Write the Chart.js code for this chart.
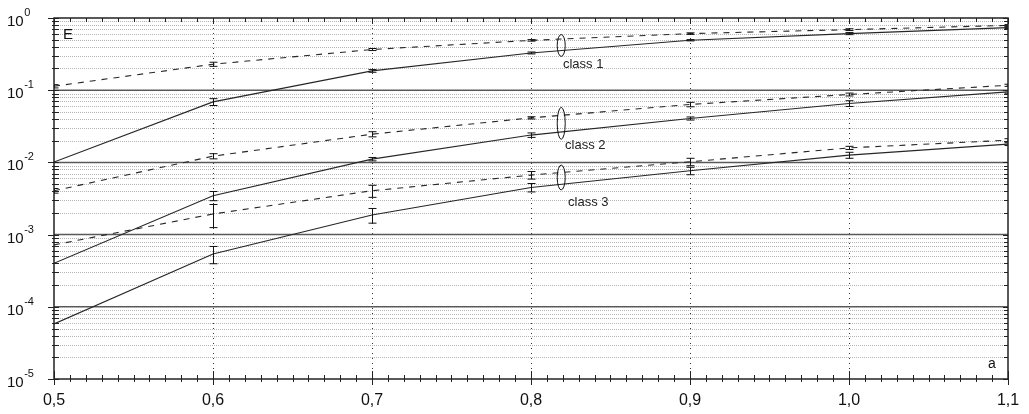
<!DOCTYPE html>
<html>
<head>
<meta charset="utf-8">
<script src="https://cdn.jsdelivr.net/npm/chart.js@4/dist/chart.umd.min.js"></script>
<style>
  body { margin: 0; background: #fff; }
  #chart { display: block; }
</style>
</head>
<body>
<canvas id="chart" width="1029" height="414"></canvas>
<script>
// values
const aValues = [0.5, 0.6, 0.7, 0.8, 0.9, 1.0, 1.1]

const class1Dashed = [0.1135, 0.229, 0.366, 0.49, 0.608, 0.69, 0.79]
const class1Solid = [0.0101, 0.0689, 0.185, 0.328, 0.492, 0.608, 0.736]
const class2Dashed = [0.00405, 0.0122, 0.0246, 0.0414, 0.0634, 0.0872, 0.117]
const class2Solid = [0.0004, 0.00345, 0.0111, 0.0239, 0.0406, 0.0655, 0.0948]
const class3Dashed = [0.00072, 0.00193, 0.00405, 0.00667, 0.0102, 0.0159, 0.0203]
const class3Solid = [0.000058, 0.00054, 0.00187, 0.0045, 0.00765, 0.0126, 0.0179]

// error bar half-widths
const class1DashedErr = [0.006, 0.015, 0.012, 0.012, 0.015, 0.02, 0.02]
const class1SolidErr = [0, 0.0075, 0.008, 0.01, 0.01, 0.02, 0.02]
const class2DashedErr = [0.0003, 0.001, 0.002, 0.0015, 0.0045, 0.004, 0.004]
const class2SolidErr = [0, 0.0005, 0.0006, 0.0017, 0.002, 0.006, 0.004]
const class3DashedErr = [0, 0.00068, 0.00077, 0.0008, 0.0012, 0.0008, 0.001]
const class3SolidErr = [0, 0.000145, 0.00043, 0.0006, 0.0009, 0.0012, 0.0008]

const xTickValues = [0.5, 0.6, 0.7, 0.8, 0.9, 1.0, 1.1]
const xTickLabels = ['0,5', '0,6', '0,7', '0,8', '0,9', '1,0', '1,1']
const yExponents = [0, -1, -2, -3, -4, -5]

const classLabels = ['class 1', 'class 2', 'class 3']
const classMarkX = 0.819
const classMarkY = [[0.294, 0.59], [0.0209, 0.0578], [0.00416, 0.00919]]
const classLabelX = [0.8201, 0.8214, 0.8233]
const classLabelY = [0.224, 0.017, 0.00283]

const series = [
  {values: class1Dashed, errors: class1DashedErr, dashed: true},
  {values: class1Solid, errors: class1SolidErr, dashed: false},
  {values: class2Dashed, errors: class2DashedErr, dashed: true},
  {values: class2Solid, errors: class2SolidErr, dashed: false},
  {values: class3Dashed, errors: class3DashedErr, dashed: true},
  {values: class3Solid, errors: class3SolidErr, dashed: false},
]

const FONT = '"Liberation Sans", Arial, sans-serif'

function seg(ctx, x1, y1, x2, y2) {
  ctx.beginPath()
  ctx.moveTo(x1, y1)
  ctx.lineTo(x2, y2)
  ctx.stroke()
}

const frame = {
  id: 'frame',
  beforeDraw(c) {
    const ctx = c.ctx
    ctx.save()
    ctx.fillStyle = '#fff'
    ctx.fillRect(0, 0, c.width, c.height)
    ctx.restore()
  },
  beforeDatasetsDraw(c) {
    const {ctx, chartArea: a, scales: {x, y}} = c
    ctx.save()
    // minor horizontal grid
    ctx.lineWidth = 1
    ctx.strokeStyle = '#b4b4b4'
    ctx.setLineDash([1, 1])
    for (let e = -5; e < 0; e++) {
      for (let m = 2; m <= 9; m++) {
        const py = Math.round(y.getPixelForValue(m * Math.pow(10, e))) + 0.5
        seg(ctx, a.left, py, a.right, py)
      }
    }
    // vertical dotted grid
    ctx.strokeStyle = '#333'
    ctx.setLineDash([1, 4])
    xTickValues.slice(1, -1).forEach(v => {
      const px = Math.round(x.getPixelForValue(v)) + 0.5
      seg(ctx, px, a.top, px, a.bottom)
    })
    // decade lines
    ctx.setLineDash([])
    ctx.strokeStyle = '#5a5a5a'
    ctx.lineWidth = 1.5
    yExponents.slice(1, -1).forEach(e => {
      const py = y.getPixelForValue(Math.pow(10, e))
      seg(ctx, a.left, py, a.right, py)
    })
    ctx.restore()
  },
  afterDatasetsDraw(c) {
    const {ctx, chartArea: a, scales: {x, y}} = c
    ctx.save()
    ctx.beginPath()
    ctx.rect(a.left, a.top, a.right - a.left, a.bottom - a.top)
    ctx.clip()
    // error bars
    ctx.strokeStyle = '#111'
    ctx.lineWidth = 1
    series.forEach(s => {
      s.values.forEach((v, j) => {
        const err = s.errors[j]
        if (!err) return
        const px = Math.round(x.getPixelForValue(aValues[j])) + 0.5
        const hi = y.getPixelForValue(v + err)
        const lo = y.getPixelForValue(Math.max(v - err, 1e-6))
        seg(ctx, px, hi, px, lo)
        seg(ctx, px - 4, hi, px + 4, hi)
        seg(ctx, px - 4, lo, px + 4, lo)
      })
    })
    // class markers
    ctx.lineWidth = 1
    classMarkY.forEach(([lo, hi]) => {
      const cx = x.getPixelForValue(classMarkX)
      const top = y.getPixelForValue(hi)
      const bot = y.getPixelForValue(lo)
      ctx.beginPath()
      ctx.ellipse(cx, (top + bot) / 2, 4, (bot - top) / 2, 0, 0, Math.PI * 2)
      ctx.stroke()
    })
    ctx.restore()

    ctx.save()
    // frame
    ctx.strokeStyle = '#222'
    ctx.lineWidth = 1.5
    ctx.strokeRect(a.left, a.top, a.right - a.left, a.bottom - a.top)
    ctx.lineWidth = 1
    // x ticks
    for (let i = 0; i <= 60; i++) {
      const v = 0.5 + i / 100
      const px = Math.round(x.getPixelForValue(v)) + 0.5
      const major = i % 10 === 0
      seg(ctx, px, a.bottom - (major ? 8 : 4), px, a.bottom + (major ? 6 : 3))
      seg(ctx, px, a.top, px, a.top + (major ? 6 : 4))
    }
    // y ticks
    for (let e = -5; e <= 0; e++) {
      const py = Math.round(y.getPixelForValue(Math.pow(10, e))) + 0.5
      seg(ctx, a.left - 6, py, a.left + 5, py)
      seg(ctx, a.right - 5, py, a.right, py)
      if (e === 0) continue
      for (let m = 2; m <= 9; m++) {
        const q = Math.round(y.getPixelForValue(m * Math.pow(10, e))) + 0.5
        seg(ctx, a.left - 2, q, a.left + 5, q)
        seg(ctx, a.right - 4, q, a.right, q)
      }
    }
    ctx.restore()
  },
  afterDraw(c) {
    const {ctx, chartArea: a, scales: {x, y}} = c
    ctx.save()
    ctx.fillStyle = '#111'
    // x labels
    ctx.font = '16px ' + FONT
    ctx.textAlign = 'center'
    ctx.textBaseline = 'alphabetic'
    xTickValues.forEach((v, i) => {
      ctx.fillText(xTickLabels[i], x.getPixelForValue(v), 405)
    })
    // y labels 10^n
    ctx.textAlign = 'left'
    yExponents.forEach(e => {
      const py = y.getPixelForValue(Math.pow(10, e))
      ctx.font = '15px ' + FONT
      ctx.fillText('10', 7, py + 8)
      const w = ctx.measureText('10').width
      ctx.font = '11px ' + FONT
      ctx.fillText(String(e).replace('-', '-'), 7 + w + 0.5, py - 2)
    })
    // axis names
    ctx.font = '15px ' + FONT
    ctx.fillText('E', 63, 39)
    ctx.font = '14px ' + FONT
    ctx.fillText('a', 988, 368)
    // class labels
    ctx.font = '13px ' + FONT
    ctx.textBaseline = 'middle'
    ctx.fillStyle = '#222'
    classLabels.forEach((t, i) => {
      ctx.fillText(t, x.getPixelForValue(classLabelX[i]), y.getPixelForValue(classLabelY[i]))
    })
    ctx.restore()
  }
}

const chart = new Chart(document.querySelector('#chart').getContext('2d'), {
  type: 'line',
  data: {
    datasets: series.map(s => ({
      data: s.values.map((v, i) => ({x: aValues[i], y: v})),
      borderColor: '#262626',
      borderWidth: 1.1,
      borderDash: s.dashed ? [6, 6] : [],
      pointRadius: 0,
      tension: 0,
      fill: false,
    }))
  },
  options: {
    responsive: false,
    animation: false,
    layout: {padding: {left: 54, top: 18, right: 21, bottom: 35}},
    plugins: {legend: {display: false}, tooltip: {enabled: false}},
    scales: {
      x: {type: 'linear', min: 0.5, max: 1.1, display: false},
      y: {type: 'logarithmic', min: 1e-5, max: 1, display: false},
    },
  },
  plugins: [frame],
})
</script>
</body>
</html>
